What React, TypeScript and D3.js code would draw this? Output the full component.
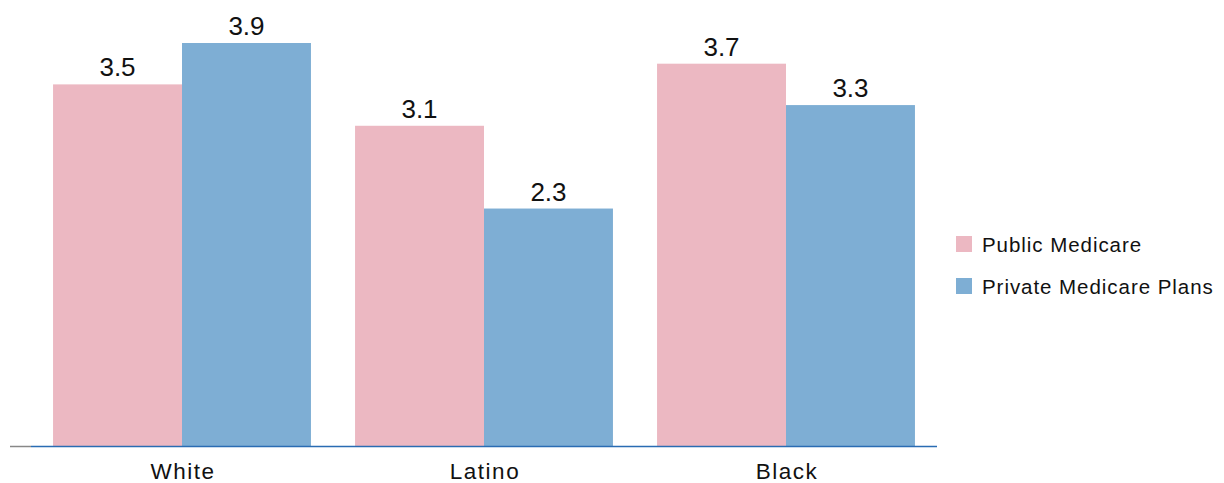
import React from "react";
import * as d3 from "d3";

const categories = ["White", "Latino", "Black"];
const seriesNames = ["Public Medicare", "Private Medicare Plans"];
const publicValues = [3.5, 3.1, 3.7];
const privateValues = [3.9, 2.3, 3.3];
const colors = ["#ecb8c2", "#7eaed4"];

const W = 1224;
const H = 483;
const font = "'Liberation Sans', Arial, sans-serif";

export default function App() {
  const x = d3.scaleBand<string>().domain(categories).range([31, 937]).paddingInner(0.146).paddingOuter(0.073);
  const xs = d3.scaleBand<string>().domain(seriesNames).range([0, x.bandwidth()]);
  const y = d3.scaleLinear().domain([0, 3.9]).range([446.5, 43]);
  const series = [publicValues, privateValues];

  return (
    <svg width={W} height={H} style={{ position: "absolute", left: 0, top: 0, background: "#fff" }}>
      {categories.map((c, i) => (
        <g key={c} transform={`translate(${x(c)},0)`}>
          {seriesNames.map((s, j) => {
            const v = series[j][i];
            const bx = xs(s)!;
            return (
              <g key={s}>
                <rect x={bx} y={y(v)} width={xs.bandwidth()} height={y(0) - y(v)} fill={colors[j]} />
                <text x={bx + xs.bandwidth() / 2} y={y(v) - 8} textAnchor="middle" fontFamily={font} fontSize={26} fill="#111">
                  {v.toFixed(1)}
                </text>
              </g>
            );
          })}
          <text x={x.bandwidth() / 2 + 1} y={479} textAnchor="middle" fontFamily={font} fontSize={22.5} letterSpacing={1.5} fill="#111">
            {c}
          </text>
        </g>
      ))}
      <line x1={10} x2={31} y1={446.5} y2={446.5} stroke="#888" strokeWidth={1.5} />
      <line x1={31} x2={937} y1={446.5} y2={446.5} stroke="#2a6cb3" strokeWidth={1.5} />
      {seriesNames.map((s, j) => (
        <g key={s} transform={`translate(956,${236 + j * 42})`}>
          <rect x={0} y={0} width={16} height={16} fill={colors[j]} />
          <text x={26} y={15.5} fontFamily={font} fontSize={20.5} letterSpacing={0.95} fill="#111">
            {s}
          </text>
        </g>
      ))}
    </svg>
  );
}
